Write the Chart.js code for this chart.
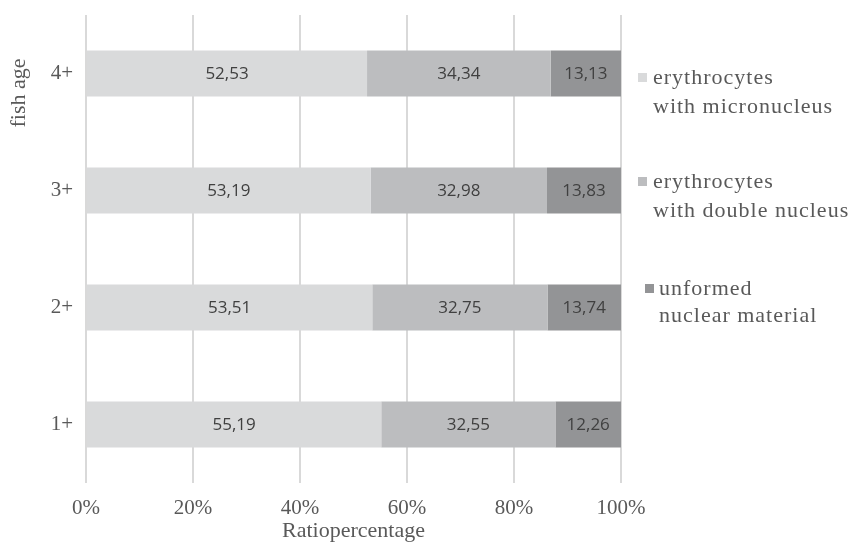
<!DOCTYPE html>
<html>
<head>
<meta charset="utf-8">
<script src="https://cdn.jsdelivr.net/npm/chart.js@4"></script>
<style>
  html, body { margin: 0; padding: 0; background: #fff; }
  #wrap { width: 850px; height: 544px; position: relative; }
</style>
</head>
<body>
<div id="wrap"><canvas id="myChart"></canvas></div>
<script>
const categories = ['4+', '3+', '2+', '1+'];
const micronucleus = [52.53, 53.19, 53.51, 55.19];
const doubleNucleus = [34.34, 32.98, 32.75, 32.55];
const unformed = [13.13, 13.83, 13.74, 12.26];
const seriesNames = [
  ['erythrocytes', 'with micronucleus'],
  ['erythrocytes', 'with double nucleus'],
  ['unformed', 'nuclear material']
];
const xTicks = [0, 20, 40, 60, 80, 100];

const colors = ['#d9dadb', '#bcbdbf', '#939496'];
const serif = '"Liberation Serif", "DejaVu Serif", serif';

// numbers inside the bars
const barLabels = {
  id: 'barLabels',
  afterDatasetsDraw(chart) {
    const ctx = chart.ctx;
    ctx.save();
    ctx.font = '17px "Open Sans", sans-serif';
    ctx.fillStyle = '#404040';
    ctx.textAlign = 'center';
    ctx.textBaseline = 'middle';
    chart.data.datasets.forEach((ds, i) => {
      chart.getDatasetMeta(i).data.forEach((bar, j) => {
        const p = bar.getProps(['x', 'y', 'base'], true);
        ctx.fillText(ds.data[j].toFixed(2).replace('.', ','), (p.x + p.base) / 2, p.y + 1);
      });
    });
    ctx.restore();
  }
};

// legend with two-line labels, on the right
const sideLegend = {
  id: 'sideLegend',
  afterDraw(chart) {
    const ctx = chart.ctx;
    const items = [
      { box: [638, 73], text: [653, 84], gap: 29 },
      { box: [638, 177], text: [653, 188], gap: 29 },
      { box: [645, 284], text: [659, 295], gap: 27 }
    ];
    ctx.save();
    ctx.font = '22px ' + serif;
    ctx.letterSpacing = '1px';
    ctx.textBaseline = 'alphabetic';
    ctx.textAlign = 'left';
    items.forEach((it, i) => {
      ctx.fillStyle = colors[i];
      ctx.fillRect(it.box[0], it.box[1], 9, 9);
      ctx.fillStyle = '#595959';
      seriesNames[i].forEach((line, k) => {
        ctx.fillText(line, it.text[0], it.text[1] + k * it.gap);
      });
    });
    // y axis title
    ctx.letterSpacing = '0px';
    ctx.font = '22px ' + serif;
    ctx.translate(19, 93);
    ctx.rotate(-Math.PI / 2);
    ctx.textAlign = 'center';
    ctx.textBaseline = 'middle';
    ctx.fillText('fish age', 0, 0);
    ctx.restore();
  }
};

const ctx = document.getElementById('myChart');
const myChart = new Chart(ctx, {
  type: 'bar',
  data: {
    labels: categories,
    datasets: [
      { label: seriesNames[0].join(' '), data: micronucleus, backgroundColor: colors[0] },
      { label: seriesNames[1].join(' '), data: doubleNucleus, backgroundColor: colors[1] },
      { label: seriesNames[2].join(' '), data: unformed, backgroundColor: colors[2] }
    ]
  },
  options: {
    indexAxis: 'y',
    responsive: true,
    maintainAspectRatio: false,
    animation: false,
    layout: { padding: { left: 0, right: 229, top: 15, bottom: 0 } },
    datasets: { bar: { categoryPercentage: 1, barPercentage: 0.393 } },
    plugins: {
      legend: { display: false },
      tooltip: { enabled: false }
    },
    scales: {
      x: {
        stacked: true,
        min: 0,
        max: 100,
        afterBuildTicks: (scale) => { scale.ticks = xTicks.map(v => ({ value: v })); },
        afterFit: (scale) => {
          scale.height = 61;
          scale.paddingLeft = 0;
          scale.paddingRight = 0;
        },
        grid: { color: '#d9d9d9', lineWidth: 2, drawTicks: false },
        border: { display: false },
        ticks: {
          padding: 13,
          color: '#595959',
          font: { family: serif, size: 21 },
          callback: (v) => v + '%'
        },
        title: {
          display: true,
          text: 'Ratiopercentage',
          color: '#595959',
          font: { family: serif, size: 22 },
          padding: { top: 0, bottom: 0 }
        }
      },
      y: {
        stacked: true,
        afterFit: (scale) => {
          scale.width = 86;
          scale.paddingTop = 0;
          scale.paddingBottom = 0;
        },
        grid: { display: false, drawTicks: false },
        border: { display: false },
        ticks: {
          padding: 13,
          color: '#595959',
          font: { family: serif, size: 21 }
        }
      }
    }
  },
  plugins: [barLabels, sideLegend]
});
</script>
</body>
</html>
